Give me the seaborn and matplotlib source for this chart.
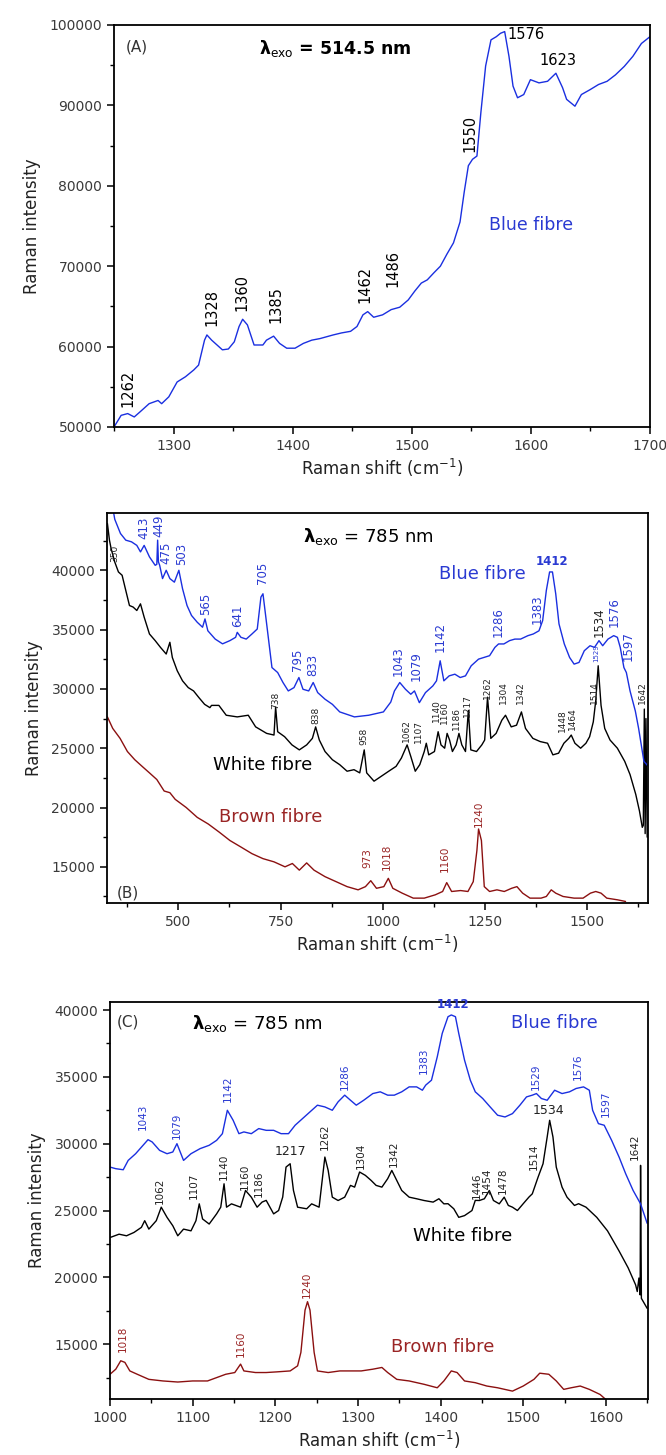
import matplotlib
matplotlib.use("Agg")
import matplotlib.pyplot as plt
from matplotlib.ticker import MultipleLocator
import seaborn as sns

# ---------------- (A) 514.5 nm excitation, blue fibre ----------------
a_blue = [(1250, 50000), (1256, 51450), (1261.5, 51670), (1267, 51250), (1272, 51900),
          (1279.5, 52900), (1287, 53300), (1290, 52900), (1296, 53750), (1303, 55600),
          (1310, 56250), (1317, 57100), (1321, 57700), (1326, 60800), (1328, 61450),
          (1332, 60800), (1341, 59600), (1346, 59700), (1351, 60600), (1355, 62500),
          (1358, 63400), (1362, 62700), (1367.6, 60200), (1375, 60200), (1378, 60800),
          (1384, 61300), (1389, 60400), (1395, 59800), (1402, 59800), (1409, 60400),
          (1416, 60800), (1423, 61000), (1434, 61450), (1441, 61700), (1448.6, 61900),
          (1454, 62500), (1459, 63950), (1463, 64350), (1468, 63650), (1475.5, 63950),
          (1482.7, 64600), (1489.9, 64900), (1497, 65800), (1502.5, 66900), (1508, 67900),
          (1513, 68300), (1518.7, 69200), (1524, 70000), (1529.5, 71500), (1535, 72900),
          (1540.5, 75500), (1544, 79200), (1547.5, 82500), (1551, 83300), (1554.7, 83700),
          (1558, 89100), (1562, 94900), (1566.5, 98150), (1571, 98550), (1574.5, 98970),
          (1578, 99180), (1581.6, 96100), (1585, 92400), (1588.8, 90950), (1594, 91350),
          (1599.6, 93200), (1606.8, 92800), (1614, 93000), (1621, 94000), (1626.6, 92200),
          (1630, 90750), (1637, 89900), (1642.4, 91350), (1649.6, 91950), (1656.8, 92600),
          (1664, 93000), (1671, 93800), (1678.4, 94850), (1685.6, 96100), (1692.8, 97700),
          (1700, 98550)]
a_peak_text = ["1262", "1328", "1360", "1385", "1462", "1486", "1550"]
a_peak_x = [1261.5, 1332, 1357, 1385.6, 1461, 1484.5, 1549]
a_peak_y = [52500, 62500, 64400, 62900, 65400, 67400, 84150]

# ---------------- (B) 785 nm, full range ----------------
b_blue = [(338, 45500), (344, 44300), (358, 43100), (371, 42540), (385, 42400), (398, 42100),
          (407, 41550), (416, 42100), (429, 41130), (443, 40420), (447, 40500), (449, 42540),
          (451, 40700), (454, 40420), (461, 39300), (470, 40000), (479, 39300), (490, 39000),
          (501, 40000), (510, 38450), (521, 37030), (532, 36190), (546, 35620), (559, 35200),
          (565, 35900), (572, 34900), (590, 34200), (608, 33800), (626, 34070), (640, 34350),
          (644, 34770), (653, 34350), (666, 34200), (680, 34630), (693, 35050), (702, 37740),
          (707, 38020), (714, 36050), (723, 33500), (729, 31800), (743, 31380), (756, 30540),
          (769, 29830), (783, 30110), (795, 30960), (805, 29970), (819, 29830), (830, 30540),
          (841, 29690), (859, 29130), (877, 28700), (895, 28060), (931, 27640), (966, 27780),
          (1002, 28060), (1020, 28890), (1029, 29830), (1042, 30540), (1056, 29970),
          (1069, 29550), (1078, 29830), (1090, 28840), (1105, 29690), (1123, 30250),
          (1132, 30680), (1141, 32370), (1150, 30680), (1163, 31100), (1177, 31240),
          (1190, 30960), (1203, 31100), (1217, 31950), (1235, 32510), (1248, 32650),
          (1262, 32800), (1275, 33500), (1284, 33790), (1297, 33790), (1311, 34070),
          (1324, 34200), (1338, 34200), (1356, 34490), (1369, 34630), (1383, 34900),
          (1392, 35760), (1401, 38300), (1409, 39860), (1416, 39860), (1424, 38020),
          (1432, 35480), (1445, 33790), (1458, 32650), (1469, 32090), (1481, 32230),
          (1494, 33220), (1508, 33640), (1519, 33500), (1530, 34070), (1539, 33640),
          (1552, 34200), (1566, 34490), (1575, 34350), (1582, 33500), (1591, 31800),
          (1597, 31380), (1606, 29830), (1619, 28130), (1627, 26670), (1640, 23890),
          (1650, 23500)]
b_white = [(326, 43950), (331, 42540), (335, 41840), (344, 40700), (353, 39860), (362, 39580),
           (371, 38300), (380, 37030), (389, 36900), (398, 36610), (407, 37170), (416, 36050),
           (429, 34630), (443, 34070), (456, 33500), (470, 32940), (479, 33930), (485, 32650),
           (497, 31530), (510, 30680), (524, 30110), (537, 29830), (550, 29270), (564, 28700),
           (577, 28420), (581, 28610), (599, 28610), (617, 27780), (644, 27640), (671, 27780),
           (689, 26800), (716, 26250), (734, 26110), (738, 28470), (743, 26390), (760, 25970),
           (778, 25280), (796, 24860), (814, 25280), (828, 25830), (836, 26800), (845, 25690),
           (859, 24720), (877, 24030), (895, 23610), (913, 23060), (930, 23190), (944, 22920),
           (955, 24860), (961, 22920), (979, 22220), (997, 22640), (1015, 23060), (1033, 23470),
           (1046, 24170), (1060, 25280), (1069, 24310), (1080, 23060), (1091, 23610),
           (1102, 24720), (1107, 25420), (1113, 24440), (1127, 24720), (1136, 26390),
           (1143, 25280), (1152, 25000), (1158, 26250), (1164, 25690), (1171, 24720),
           (1180, 25280), (1187, 26250), (1194, 25280), (1203, 24720), (1210, 28190),
           (1216, 24860), (1230, 24720), (1243, 25280), (1250, 25690), (1257, 29300),
           (1265, 25830), (1278, 26250), (1292, 27360), (1301, 27780), (1315, 26800),
           (1328, 26940), (1340, 28060), (1350, 26670), (1368, 25830), (1386, 25560),
           (1404, 25420), (1417, 24440), (1431, 24580), (1444, 25420), (1456, 25830),
           (1462, 26110), (1471, 25420), (1485, 25000), (1498, 25420), (1507, 25970),
           (1516, 27220), (1522, 29000), (1528, 31950), (1535, 28610), (1544, 26670),
           (1557, 25690), (1575, 25000), (1593, 23890), (1606, 22780), (1620, 21110),
           (1629, 19720), (1636, 18330), (1638.5, 18500), (1641, 28300), (1643, 17800),
           (1645, 27500), (1648, 17500)]
b_brown = [(326, 27640), (339, 26670), (357, 25830), (375, 24720), (393, 24030), (411, 23470),
           (429, 22920), (447, 22360), (465, 21390), (479, 21250), (492, 20690), (519, 20000),
           (546, 19170), (573, 18610), (600, 17920), (626, 17220), (653, 16670), (680, 16110),
           (707, 15690), (734, 15420), (761, 15000), (779, 15280), (796, 14720), (814, 15330),
           (832, 14720), (859, 14170), (886, 13750), (913, 13330), (940, 13060), (958, 13330),
           (971, 13830), (985, 13190), (1003, 13330), (1014, 14030), (1025, 13190),
           (1048, 12780), (1075, 12360), (1102, 12360), (1129, 12640), (1147, 12920),
           (1157, 13670), (1169, 12920), (1191, 13000), (1209, 12920), (1222, 13750),
           (1231, 16390), (1235, 18190), (1242, 17220), (1249, 13330), (1262, 12920),
           (1280, 13060), (1298, 12920), (1316, 13190), (1329, 13330), (1343, 12780),
           (1361, 12360), (1388, 12360), (1401, 12500), (1413, 13060), (1424, 12780),
           (1442, 12500), (1469, 12360), (1491, 12360), (1509, 12780), (1522, 12920),
           (1535, 12780), (1549, 12360), (1575, 12220), (1595, 12080)]
b_blue_text = ["413", "449", "475", "503", "565", "641", "705", "795", "833", "1043", "1079",
               "1142", "1286", "1383", "1576", "1597"]
b_blue_x = [416, 453, 470, 507, 566, 644, 707, 792, 828, 1038, 1083, 1141, 1284, 1378, 1568, 1602]
b_blue_y = [42680, 42800, 40560, 40420, 36190, 35200, 38870, 31530, 31100, 31100, 30680,
            33080, 34350, 35480, 35200, 32370]
b_white_text = ["350", "738", "838", "958", "1062", "1107", "1140", "1160", "1186", "1217",
                "1262", "1304", "1342", "1448", "1464", "1514", "1642"]
b_white_x = [345, 738, 836, 955, 1058, 1088, 1131, 1152, 1180, 1208, 1257, 1297, 1338, 1441,
             1466, 1518, 1636]
b_white_y = [40700, 28300, 27080, 25280, 25560, 25420, 27220, 27080, 26530, 27640, 29120,
             28700, 28700, 26390, 26530, 28700, 28700]
b_brown_text = ["973", "1018", "1160", "1240"]
b_brown_x = [962, 1011, 1152, 1235]
b_brown_y = [14860, 14720, 14580, 18330]

# ---------------- (C) 785 nm, 1000-1650 cm-1 ----------------
c_blue = [(1000, 28250), (1007, 28130), (1016, 28050), (1022, 28750), (1031, 29250),
          (1040, 29880), (1046, 30300), (1051, 30130), (1060, 29500), (1069, 29250),
          (1076, 29380), (1081, 30000), (1089, 28750), (1098, 29250), (1109, 29630),
          (1120, 29880), (1129, 30250), (1136, 30750), (1142, 32500), (1149, 31750),
          (1156, 30750), (1162, 30880), (1171, 30750), (1180, 31130), (1189, 31000),
          (1198, 31000), (1207, 30750), (1216, 30750), (1224, 31380), (1233, 31880),
          (1242, 32380), (1251, 32880), (1260, 32750), (1269, 32500), (1276, 33130),
          (1284, 33630), (1291, 33250), (1298, 32880), (1307, 33250), (1318, 33750),
          (1327, 33880), (1336, 33630), (1344, 33630), (1353, 33880), (1362, 34250),
          (1371, 34250), (1378, 34000), (1382, 34380), (1389, 34750), (1396, 36500),
          (1402, 38250), (1409, 39500), (1413, 39630), (1418, 39500), (1422, 38250),
          (1429, 36250), (1436, 34750), (1442, 33880), (1451, 33380), (1460, 32750),
          (1469, 32130), (1478, 32000), (1487, 32250), (1496, 32880), (1504, 33500),
          (1511, 33630), (1516, 33750), (1522, 33380), (1529, 33250), (1538, 34000),
          (1547, 33750), (1556, 33880), (1564, 34130), (1573, 34250), (1580, 34000),
          (1584, 32500), (1591, 31500), (1598, 31380), (1607, 30250), (1616, 29000),
          (1624, 27750), (1633, 26500), (1642, 25500), (1650, 24040)]
c_white = [(1000, 22980), (1011, 23230), (1020, 23110), (1029, 23360), (1038, 23740),
           (1042, 24240), (1047, 23610), (1056, 24240), (1062, 25250), (1069, 24490),
           (1076, 23860), (1082, 23110), (1089, 23610), (1098, 23480), (1104, 24240),
           (1108, 25500), (1112, 24370), (1120, 23990), (1129, 24750), (1134, 25250),
           (1138, 27000), (1141, 25250), (1147, 25500), (1158, 25250), (1164, 26500),
           (1171, 26000), (1178, 25250), (1184, 25630), (1189, 25760), (1198, 24750),
           (1204, 25000), (1209, 26010), (1213, 28250), (1218, 28500), (1222, 26500),
           (1227, 25250), (1238, 25130), (1244, 25500), (1253, 25250), (1260, 29000),
           (1264, 28000), (1269, 26000), (1276, 25750), (1284, 26000), (1291, 26880),
           (1296, 26750), (1302, 27880), (1309, 27630), (1316, 27250), (1322, 26880),
           (1329, 26750), (1336, 27380), (1341, 28000), (1347, 27250), (1353, 26500),
           (1362, 26000), (1371, 25880), (1380, 25750), (1391, 25630), (1398, 25880),
           (1404, 25500), (1409, 25510), (1416, 25130), (1422, 24490), (1429, 24620),
           (1438, 25000), (1442, 25760), (1447, 25750), (1453, 25880), (1459, 26500),
           (1464, 25750), (1471, 25500), (1477, 26000), (1482, 25380), (1487, 25250),
           (1493, 25000), (1500, 25510), (1507, 26010), (1511, 26250), (1518, 27500),
           (1524, 28500), (1529, 30500), (1532, 31750), (1536, 30500), (1540, 28250),
           (1547, 26750), (1553, 26000), (1562, 25380), (1567, 25510), (1576, 25250),
           (1589, 24490), (1602, 23480), (1616, 21970), (1627, 20710), (1636, 19440),
           (1638, 18940), (1640, 19950), (1641.5, 18690), (1642, 28380), (1643, 18430),
           (1650, 17680)]
c_brown = [(1000, 12750), (1007, 13130), (1013, 13760), (1018, 13640), (1024, 13000),
           (1033, 12750), (1047, 12370), (1064, 12250), (1082, 12170), (1100, 12250),
           (1118, 12250), (1129, 12500), (1140, 12750), (1151, 12880), (1158, 13510),
           (1162, 13000), (1176, 12880), (1189, 12880), (1202, 12930), (1218, 13000),
           (1227, 13380), (1231, 14390), (1236, 17550), (1239, 18180), (1242, 17550),
           (1247, 14390), (1251, 13000), (1264, 12880), (1278, 13000), (1291, 13000),
           (1304, 13000), (1318, 13130), (1329, 13260), (1336, 12880), (1347, 12370),
           (1362, 12250), (1380, 12000), (1396, 11740), (1404, 12250), (1413, 13000),
           (1420, 12880), (1429, 12250), (1442, 12120), (1456, 11870), (1469, 11740),
           (1487, 11490), (1500, 11870), (1513, 12370), (1520, 12830), (1531, 12750),
           (1540, 12250), (1549, 11620), (1558, 11740), (1569, 11870), (1580, 11620),
           (1593, 11240), (1600, 10860)]
c_blue_text = ["1043", "1079", "1142", "1286", "1383", "1529", "1576", "1597"]
c_blue_x = [1040, 1081, 1143, 1284, 1380, 1515, 1566, 1600]
c_blue_y = [31000, 30380, 33130, 34000, 35250, 34000, 34750, 32000]
c_white_text = ["1062", "1107", "1140", "1160", "1186", "1262", "1304", "1342", "1446",
                "1454", "1478", "1514", "1642"]
c_white_x = [1060, 1102, 1138, 1163, 1180, 1260, 1304, 1344, 1444, 1456, 1475, 1513, 1635]
c_white_y = [25500, 25880, 27250, 26500, 26000, 29500, 28130, 28250, 25880, 26250, 26250,
             28000, 28750]
c_brown_text = ["1018", "1160", "1240"]
c_brown_x = [1016, 1158, 1238]
c_brown_y = [14390, 14010, 18430]

BLUE = "#1a2fe0"
BLUE_TXT = "#2a3ad2"
BROWN = "#8b1010"
BROWN_TXT = "#9a2525"

sns.set_theme(style="ticks")
plt.rcParams["font.family"] = ["DejaVu Sans"]
plt.rcParams["mathtext.fontset"] = "dejavusans"

fig = plt.figure(figsize=(6.66, 14.55), dpi=100)
W, H = 666, 1455


def make_axes(left, right, top, bottom):
    return fig.add_axes([left / W, 1 - bottom / H, (right - left) / W, (bottom - top) / H])


def draw(ax, pts, color):
    xs = [p[0] for p in pts]
    ys = [p[1] for p in pts]
    sns.lineplot(x=xs, y=ys, ax=ax, color=color, linewidth=1.0, sort=False,
                 estimator=None, legend=False)


def peak_labels(ax, texts, xs, ys, color, size):
    for t, x, y in zip(texts, xs, ys):
        ax.text(x, y, t, rotation=90, ha="center", va="bottom", color=color,
                fontsize=size, clip_on=False)


def style(ax, xmaj, xmin, ymaj, ymin):
    ax.xaxis.set_major_locator(MultipleLocator(xmaj))
    ax.xaxis.set_minor_locator(MultipleLocator(xmin))
    ax.yaxis.set_major_locator(MultipleLocator(ymaj))
    ax.yaxis.set_minor_locator(MultipleLocator(ymin))
    ax.tick_params(which="major", direction="out", length=5, width=1.1, labelsize=10,
                   labelcolor="#3a3a3a", color="black")
    ax.tick_params(which="minor", direction="out", length=3, width=1.0, color="black")
    ax.tick_params(top=False, right=False, which="both")
    for s in ax.spines.values():
        s.set_color("black")
        s.set_linewidth(1.3)
    ax.set_xlabel(r"Raman shift (cm$^{-1}$)", fontsize=12, color="#222222", labelpad=3)
    ax.set_ylabel("Raman intensity", fontsize=12, color="#222222", labelpad=6)


# ---- panel A ----
ax = make_axes(114, 650, 25, 427)
draw(ax, a_blue, BLUE)
ax.set_xlim(1250, 1700)
ax.set_ylim(50000, 100000)
style(ax, 100, 50, 10000, 5000)
peak_labels(ax, a_peak_text, a_peak_x, a_peak_y, "black", 10.5)
ax.text(1580, 98770, "1576", ha="left", va="center", fontsize=10.5, color="black")
ax.text(1623, 95550, "1623", ha="center", va="center", fontsize=10.5, color="black")
ax.text(1269, 97300, "(A)", ha="center", va="center", fontsize=11, color="#333333")
ax.text(1436, 97100, r"$\mathbf{\lambda}_{\mathrm{exo}}$ = 514.5 nm", ha="center",
        va="center", fontsize=12.5, color="black", fontweight="bold")
ax.text(1600, 75100, "Blue fibre", ha="center", va="center", fontsize=12.5, color=BLUE_TXT)

# ---- panel B ----
ax = make_axes(107, 648, 513, 903)
draw(ax, b_brown, BROWN)
draw(ax, b_white, "black")
draw(ax, b_blue, BLUE)
ax.set_xlim(325, 1650)
ax.set_ylim(11950, 44830)
style(ax, 250, 125, 5000, 2500)
ax.set_yticks([15000, 20000, 25000, 30000, 35000, 40000])
peak_labels(ax, b_blue_text, b_blue_x, b_blue_y, BLUE_TXT, 8.5)
peak_labels(ax, b_white_text, b_white_x, b_white_y, "#222222", 6.5)
peak_labels(ax, b_brown_text, b_brown_x, b_brown_y, BROWN_TXT, 7.5)
peak_labels(ax, ["1534"], [1530], [34350], "#222222", 8.5)
peak_labels(ax, ["1529"], [1524], [32300], BLUE_TXT, 5)
ax.text(1414, 40700, "1412", ha="center", va="center", fontsize=8.5, color=BLUE_TXT,
        fontweight="bold")
ax.text(966, 42830, r"$\mathbf{\lambda}_{\mathrm{exo}}$ = 785 nm", ha="center", va="center",
        fontsize=13, color="black")
ax.text(1244, 39720, "Blue fibre", ha="center", va="center", fontsize=13, color=BLUE_TXT)
ax.text(705, 23610, "White fibre", ha="center", va="center", fontsize=13, color="black")
ax.text(725, 19170, "Brown fibre", ha="center", va="center", fontsize=13, color=BROWN_TXT)
ax.text(376, 12780, "(B)", ha="center", va="center", fontsize=11, color="#333333")

# ---- panel C ----
ax = make_axes(110, 648, 1002, 1399)
draw(ax, c_brown, BROWN)
draw(ax, c_white, "black")
draw(ax, c_blue, BLUE)
ax.set_xlim(1000, 1651)
ax.set_ylim(10900, 40600)
style(ax, 100, 50, 5000, 2500)
ax.set_yticks([15000, 20000, 25000, 30000, 35000, 40000])
peak_labels(ax, c_blue_text, c_blue_x, c_blue_y, BLUE_TXT, 7.5)
peak_labels(ax, c_white_text, c_white_x, c_white_y, "#222222", 7.5)
peak_labels(ax, c_brown_text, c_brown_x, c_brown_y, BROWN_TXT, 7.5)
ax.text(1415, 40380, "1412", ha="center", va="center", fontsize=8.5, color=BLUE_TXT,
        fontweight="bold", clip_on=False)
ax.text(1218, 29380, "1217", ha="center", va="center", fontsize=9, color="#222222")
ax.text(1531, 32500, "1534", ha="center", va="center", fontsize=9, color="#222222")
ax.text(1022, 39130, "(C)", ha="center", va="center", fontsize=11, color="#333333")
ax.text(1178, 39000, r"$\mathbf{\lambda}_{\mathrm{exo}}$ = 785 nm", ha="center", va="center",
        fontsize=13, color="black")
ax.text(1538, 39000, "Blue fibre", ha="center", va="center", fontsize=13, color=BLUE_TXT)
ax.text(1427, 23110, "White fibre", ha="center", va="center", fontsize=13, color="black")
ax.text(1402, 14770, "Brown fibre", ha="center", va="center", fontsize=13, color=BROWN_TXT)

fig.savefig("out.png", dpi=100)
